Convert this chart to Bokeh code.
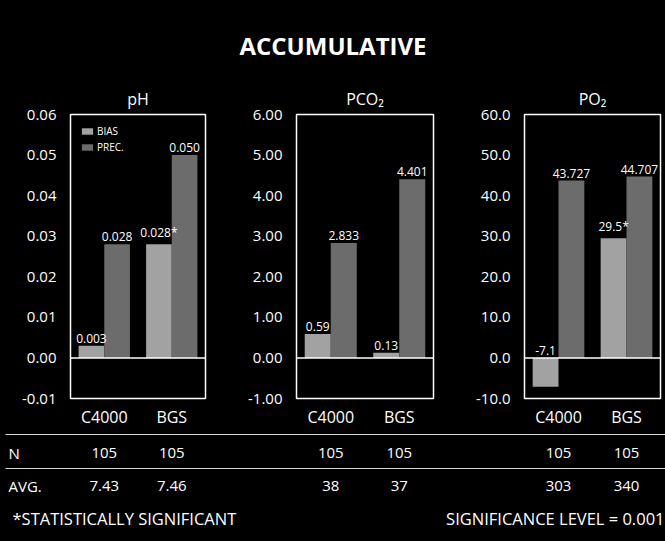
from bokeh.plotting import figure
from bokeh.models import Range1d, FactorRange, FixedTicker, Span, ColumnDataSource, Legend, LegendItem
from bokeh.layouts import column, row
from bokeh.transform import dodge
from bokeh.core.properties import value
from bokeh.embed import file_html
from bokeh.resources import INLINE

# ---------------- data ----------------
devices = ["C4000", "BGS"]

ph_bias = [0.003, 0.028]
ph_prec = [0.028, 0.050]
ph_bias_lbl = ["0.003", "0.028*"]
ph_prec_lbl = ["0.028", "0.050"]
ph_ticks = [-0.01, 0.0, 0.01, 0.02, 0.03, 0.04, 0.05, 0.06]
ph_tick_labels = ["-0.01", "0.00", "0.01", "0.02", "0.03", "0.04", "0.05", "0.06"]

pco2_bias = [0.59, 0.13]
pco2_prec = [2.833, 4.401]
pco2_bias_lbl = ["0.59", "0.13"]
pco2_prec_lbl = ["2.833", "4.401"]
pco2_ticks = [-1, 0, 1, 2, 3, 4, 5, 6]
pco2_tick_labels = ["-1.00", "0.00", "1.00", "2.00", "3.00", "4.00", "5.00", "6.00"]

po2_bias = [-7.1, 29.5]
po2_prec = [43.727, 44.707]
po2_bias_lbl = ["-7.1", "29.5*"]
po2_prec_lbl = ["43.727", "44.707"]
po2_ticks = [-10, 0, 10, 20, 30, 40, 50, 60]
po2_tick_labels = ["-10.0", "0.0", "10.0", "20.0", "30.0", "40.0", "50.0", "60.0"]

ph_n = ["105", "105"]
pco2_n = ["105", "105"]
po2_n = ["105", "105"]
ph_avg = ["7.43", "7.46"]
pco2_avg = ["38", "37"]
po2_avg = ["303", "340"]

title_text = "ACCUMULATIVE"
footnote = "*STATISTICALLY SIGNIFICANT"
sig_text = "SIGNIFICANCE LEVEL = 0.001"

# ---------------- style / layout ----------------
FONT = "Open Sans"
BG = "black"
FG = "white"
BIAS_C = "#a2a2a2"
PREC_C = "#6c6c6c"
PAGE_L, PAGE_R = 0, 665
TOP_H = 78
PANEL_H = 352
TABLE_H = 111
BORDER_TOP, BORDER_BOTTOM = 36, 29
DODGE = 0.19
BAR_W = 0.38

panel_specs = [
    # width, border_left, border_right
    (230, 70, 25),
    (225, 66, 22),
    (210, 69, 5),
]


def base(fig):
    fig.background_fill_color = BG
    fig.border_fill_color = BG
    fig.grid.visible = False
    return fig


def panel(title, bias, prec, bias_lbl, prec_lbl, ticks, tick_labels, spec, legend=False):
    w, bl, br = spec
    p = figure(x_range=FactorRange(*devices), y_range=Range1d(ticks[0], ticks[-1]),
               width=w, height=PANEL_H, min_border_left=bl, min_border_right=br,
               min_border_top=BORDER_TOP, min_border_bottom=BORDER_BOTTOM,
               output_backend="svg", toolbar_location=None)
    base(p)
    p.outline_line_color = FG
    p.outline_line_width = 1.5
    src = ColumnDataSource(dict(
        dev=devices, bias=bias, prec=prec, bias_lbl=bias_lbl, prec_lbl=prec_lbl,
        bias_top=[max(v, 0) for v in bias], prec_top=[max(v, 0) for v in prec]))
    r1 = p.vbar(x=dodge("dev", -DODGE, range=p.x_range), top="bias", width=BAR_W,
                source=src, fill_color=BIAS_C, line_color=None)
    r2 = p.vbar(x=dodge("dev", DODGE, range=p.x_range), top="prec", width=BAR_W,
                source=src, fill_color=PREC_C, line_color=None)
    for col, lbl, off in (("bias_top", "bias_lbl", -DODGE), ("prec_top", "prec_lbl", DODGE)):
        p.text(x=dodge("dev", off, range=p.x_range), y=col, text=lbl, source=src,
               text_align="center", text_baseline="bottom", y_offset=-3,
               text_color=FG, text_font=value(FONT), text_font_size="12px")
    p.add_layout(Span(location=0, dimension="width", line_color=FG, line_width=1.5))
    if legend:
        leg = Legend(items=[LegendItem(label="BIAS", renderers=[r1]),
                            LegendItem(label="PREC.", renderers=[r2])],
                     location="top_left")
        leg.background_fill_alpha = 0
        leg.border_line_alpha = 0
        leg.label_text_color = FG
        leg.label_text_font = FONT
        leg.label_text_font_size = "10px"
        leg.glyph_width = 14
        leg.glyph_height = 8
        leg.label_height = 10
        leg.spacing = 2
        leg.padding = 4
        leg.margin = 6
        leg.label_standoff = 3
        p.add_layout(leg)
    p.title.text = title
    p.title.align = "center"
    p.title.text_color = FG
    p.title.text_font = FONT
    p.title.text_font_size = "16px"
    p.title.text_font_style = "normal"
    p.yaxis.ticker = FixedTicker(ticks=ticks)
    p.yaxis.major_label_overrides = dict(zip(ticks, tick_labels))
    for ax in (p.xaxis, p.yaxis):
        ax.axis_line_color = None
        ax.major_tick_line_color = None
        ax.minor_tick_line_color = None
        ax.major_tick_out = 0
        ax.major_tick_in = 0
        ax.minor_tick_out = 0
        ax.minor_tick_in = 0
        ax.major_label_text_color = FG
        ax.major_label_text_font = FONT
    p.yaxis.major_label_text_font_size = "15px"
    p.yaxis.major_label_standoff = 14
    p.xaxis.major_label_text_font_size = "16px"
    p.xaxis.major_label_standoff = 7
    return p


p1 = panel("pH", ph_bias, ph_prec, ph_bias_lbl, ph_prec_lbl, ph_ticks, ph_tick_labels, panel_specs[0], legend=True)
p2 = panel("PCO₂", pco2_bias, pco2_prec, pco2_bias_lbl, pco2_prec_lbl, pco2_ticks, pco2_tick_labels, panel_specs[1])
p3 = panel("PO₂", po2_bias, po2_prec, po2_bias_lbl, po2_prec_lbl, po2_ticks, po2_tick_labels, panel_specs[2])

total_w = sum(s[0] for s in panel_specs)

# ---------------- title strip ----------------
top = figure(width=total_w, height=TOP_H, x_range=Range1d(PAGE_L, PAGE_R), y_range=Range1d(TOP_H, 0),
             min_border=0, output_backend="svg", toolbar_location=None)
base(top)
top.outline_line_color = None
top.axis.visible = False
top.text(x=[(PAGE_L + PAGE_R) / 2], y=[45], text=[title_text], text_align="center", text_baseline="middle",
         text_color=FG, text_font=value(FONT), text_font_size="24px", text_font_style="bold")

# ---------------- table strip ----------------
centres = []
x0 = PAGE_L
for w, bl, br in panel_specs:
    fl = x0 + bl
    fw = w - bl - br
    centres.append([fl + 0.25 * fw, fl + 0.75 * fw])
    x0 += w

tab = figure(width=total_w, height=TABLE_H, x_range=Range1d(PAGE_L, PAGE_R), y_range=Range1d(TABLE_H, 0),
             min_border=0, output_backend="svg", toolbar_location=None)
base(tab)
tab.outline_line_color = None
tab.axis.visible = False
ROW_LINES = [4, 38]
ROW_N, ROW_AVG, ROW_FOOT = 22, 55, 88
for yl in ROW_LINES:
    tab.line(x=[PAGE_L + 5, PAGE_R], y=[yl, yl], line_color="#d8d8d8", line_width=1.2)

txt = dict(text_color=FG, text_font=value(FONT), text_font_size="15px", text_baseline="middle")
tab.text(x=[PAGE_L + 8], y=[ROW_N], text=["N"], text_align="left", **txt)
tab.text(x=[PAGE_L + 8], y=[ROW_AVG], text=["AVG."], text_align="left", **txt)
xs = [x for c in centres for x in c]
tab.text(x=xs, y=[ROW_N] * 6, text=ph_n + pco2_n + po2_n, text_align="center", **txt)
tab.text(x=xs, y=[ROW_AVG] * 6, text=ph_avg + pco2_avg + po2_avg, text_align="center", **txt)
foot = dict(txt, text_font_size="16.5px")
tab.text(x=[PAGE_L + 12], y=[ROW_FOOT], text=[footnote], text_align="left", **foot)
tab.text(x=[PAGE_R - 1], y=[ROW_FOOT], text=[sig_text], text_align="right", **foot)

black = {"background-color": BG}
layout = column(top, row(p1, p2, p3, spacing=0, styles=black), tab, spacing=0, styles=black)

open("out.html", "w").write(file_html(layout, INLINE))
